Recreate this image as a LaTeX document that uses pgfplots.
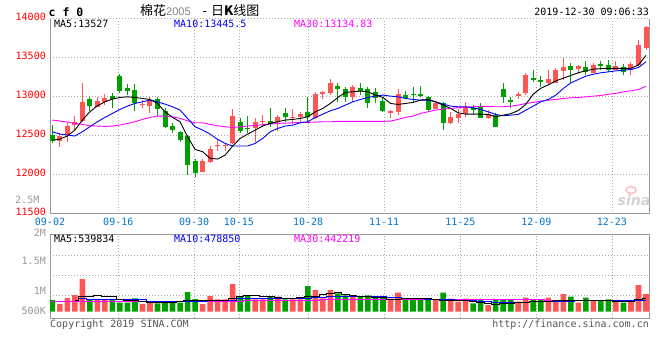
\documentclass[border=0pt]{standalone}
\usepackage{pgfplots}
\pgfplotsset{compat=1.18}
\usepackage{pgfplotstable}
\usepackage{fontspec}
\setmainfont{DejaVu Sans}
\setmonofont{DejaVu Sans Mono}
\newfontfamily\cjk{Noto Sans CJK SC}
\newfontfamily\lsans{Liberation Sans}
\definecolor{cRed}{HTML}{FF5555}
\definecolor{cGreen}{HTML}{00A000}
\definecolor{cGrid}{HTML}{AAAAAA}
\definecolor{cFrame}{HTML}{999999}
\definecolor{cBlueTxt}{HTML}{0077CC}
\definecolor{cMag}{HTML}{FF00FF}
\definecolor{cBlue}{HTML}{0000FF}
\definecolor{cTxt}{HTML}{555555}

% red (rising) candles: index open high low close volume(K)
\pgfplotstableread{
i o h l c v
1 12433 12527 12356 12493 308
2 12506 12663 12420 12621 553
3 12629 12749 12569 12676 675
4 12685 13176 12676 12928 1326
6 12868 12996 12860 12937 471
7 12928 13031 12890 12979 471
12 12885 12954 12847 12898 308
13 12881 12996 12783 12954 390
20 12036 12194 12027 12177 308
21 12164 12365 12143 12326 634
22 12360 12441 12305 12373 498
23 12365 12399 12305 12382 498
24 12399 12834 12390 12749 1123
27 12599 12719 12420 12672 498
28 12672 12762 12612 12685 498
30 12676 12762 12561 12736 607
32 12727 12834 12646 12740 498
33 12740 12804 12655 12774 498
35 12719 13061 12706 13031 878
36 13026 13073 12962 13061 539
37 13039 13218 13018 13167 878
40 12996 13146 12932 13124 634
45 12791 12826 12719 12817 525
46 12804 13090 12762 13031 770
51 12843 12945 12834 12920 471
53 12655 12804 12646 12740 525
54 12727 12834 12663 12770 403
55 12770 12928 12732 12868 525
58 12727 12826 12706 12774 268
62 13005 13060 12962 13030 403
63 13039 13295 13018 13274 566
66 13175 13338 13158 13222 566
67 13175 13359 13167 13346 471
68 13329 13500 13210 13380 715
70 13350 13402 13287 13389 362
72 13304 13432 13295 13402 471
75 13346 13457 13338 13389 471
77 13338 13444 13274 13423 471
78 13402 13722 13389 13658 1082
79 13624 13901 13594 13893 715
}\redtab

% green (falling) candles
\pgfplotstableread{
i o h l c v
0 12506 12634 12399 12433 471
5 12962 12996 12817 12881 498
8 13005 13048 12847 12966 471
9 13261 13287 13039 13065 363
10 13107 13159 13018 13073 363
11 13082 13159 12817 12911 539
14 12962 12988 12749 12843 336
15 12813 12847 12591 12612 349
16 12621 12655 12527 12569 363
17 12548 12561 12420 12441 363
18 12493 12506 11993 12121 797
19 12177 12198 11963 12015 512
25 12672 12719 12527 12561 634
26 12599 12749 12536 12582 661
29 12685 12847 12612 12642 607
31 12791 12847 12676 12732 498
34 12796 12996 12655 12732 1041
38 13133 13176 12932 13090 743
39 13090 13124 12932 12988 661
41 13112 13167 13018 13073 634
42 13090 13124 12856 12920 661
43 13056 13103 12920 12975 634
44 12941 12975 12796 12813 607
47 13018 13069 12962 12984 525
48 13031 13124 12924 13018 525
49 13035 13133 12996 13005 525
50 12996 13005 12817 12826 525
52 12911 12932 12570 12655 770
56 12856 12890 12774 12826 335
57 12860 12920 12719 12727 471
59 12762 12783 12604 12612 471
60 13094 13175 12919 12996 498
61 12953 12996 12847 12932 498
64 13240 13338 13188 13210 471
65 13210 13261 13124 13184 471
69 13389 13432 13167 13338 607
71 13380 13457 13274 13308 566
73 13419 13457 13338 13393 471
74 13402 13474 13316 13338 498
76 13372 13414 13274 13316 362
}\greentab

% price moving averages MA5 MA10 MA30
\pgfplotstableread{
i a b m
0 12441 12548 12698
1 12454 12518 12685
2 12493 12506 12672
3 12570 12493 12655
4 12698 12548 12642
5 12804 12612 12625
6 12881 12676 12621
7 12932 12732 12617
8 12967 12783 12621
9 12988 12834 12634
10 12996 12877 12655
11 12988 12911 12676
12 12975 12932 12706
13 12962 12954 12732
14 12911 12932 12749
15 12804 12902 12749
16 12732 12868 12740
17 12676 12826 12719
18 12484 12719 12689
19 12322 12612 12663
20 12292 12570 12663
21 12207 12518 12642
22 12198 12450 12625
23 12249 12399 12612
24 12365 12365 12604
25 12463 12365 12612
26 12518 12365 12621
27 12570 12399 12629
28 12621 12463 12638
29 12655 12548 12646
30 12676 12591 12655
31 12698 12621 12659
32 12706 12634 12663
33 12719 12663 12668
34 12740 12676 12668
35 12804 12732 12672
36 12847 12774 12676
37 12911 12817 12676
38 12988 12847 12681
39 13052 12890 12681
40 13061 12932 12681
41 13069 12962 12681
42 13061 12988 12681
43 13018 13005 12681
44 12988 13018 12681
45 12911 13005 12685
46 12898 12996 12706
47 12911 12975 12732
48 12924 12962 12749
49 12954 12954 12783
50 12962 12954 12804
51 12932 12932 12826
52 12890 12902 12838
53 12847 12877 12847
54 12791 12868 12856
55 12774 12868 12864
56 12774 12856 12868
57 12774 12834 12873
58 12770 12804 12873
59 12740 12770 12868
60 12760 12753 12868
61 12780 12761 12877
62 12820 12770 12889
63 12900 12825 12911
64 13030 12877 12924
65 13105 12932 12941
66 13150 12962 12953
67 13200 13017 12962
68 13235 13103 12975
69 13270 13175 12983
70 13305 13218 12988
71 13330 13261 12996
72 13350 13286 13005
73 13358 13304 13013
74 13360 13316 13030
75 13360 13329 13039
76 13360 13338 13060
77 13362 13346 13073
78 13405 13372 13090
79 13527 13445 13130
}\matab

% volume moving averages (K)
\pgfplotstableread{
i a b m
0 nan nan 403
1 nan nan 403
2 nan nan 403
3 444 444 403
4 607 539 403
5 634 498 403
6 648 498 403
7 634 498 403
8 607 498 403
9 498 498 403
10 471 498 403
11 444 498 403
12 403 498 403
13 376 431 431
14 376 431 431
15 376 431 431
16 376 431 431
17 403 431 431
18 444 431 431
19 444 431 431
20 444 431 431
21 444 471 431
22 444 471 431
23 444 471 431
24 539 471 431
25 634 539 431
26 648 539 471
27 648 539 471
28 634 539 471
29 607 539 471
30 580 539 471
31 539 539 471
32 539 539 471
33 566 539 471
34 607 552 471
35 634 566 471
36 680 593 500
37 750 607 500
38 770 620 500
39 700 634 500
40 640 634 500
41 607 634 500
42 607 634 500
43 593 620 500
44 566 607 500
45 498 593 500
46 512 566 500
47 525 552 500
48 525 539 500
49 525 525 500
50 525 512 500
51 498 498 500
52 471 498 500
53 471 485 500
54 471 471 500
55 444 471 500
56 417 444 480
57 390 431 480
58 349 417 480
59 308 390 480
60 322 376 480
61 335 376 480
62 362 390 480
63 390 390 480
64 403 403 480
65 417 403 480
66 431 417 450
67 444 417 450
68 471 431 450
69 471 431 450
70 471 444 450
71 471 444 450
72 471 444 450
73 458 444 450
74 444 444 450
75 417 458 450
76 403 458 450
77 403 458 450
78 498 471 450
79 539 471 450
}\vmatab

\begin{document}
\ttfamily\fontsize{10}{12}\selectfont
\begin{tikzpicture}[x=1pt,y=1pt]
\fill[white] (0,0) rectangle (660,360);

% ---------------- price panel ----------------
\begin{axis}[
  at={(50pt,146.5pt)}, anchor=south west,
  scale only axis, width=599pt, height=195pt,
  xmin=-0.306, xmax=79.4, ymin=11500, ymax=14000,
  scaled y ticks=false,
  axis x line*=bottom, axis y line*=box,
  axis line style={draw=cFrame, line width=1pt},
  ytick={11500,12000,12500,13000,13500,14000},
  yticklabels={11500,12000,12500,13000,13500,14000},
  yticklabel pos=left,
  yticklabel style={text=red, anchor=east, inner sep=0pt, xshift=-4pt, yshift=1.8pt},
  xtick={-0.306,8.78,18.88,24.83,34.04,44.15,54.31,64.41,74.47},
  xticklabels={09-02,09-16,09-30,10-15,10-28,11-11,11-25,12-09,12-23},
  xticklabel style={text=cBlueTxt, anchor=center, inner sep=0pt, yshift=-8pt},
  tick label style={font=\ttfamily\fontsize{10}{12}\selectfont},
  major tick length=0pt,
  xmajorgrids, ymajorgrids,
  grid style={draw=cGrid, line width=0.8pt, dash pattern=on 1pt off 2pt},
  candle/.style={draw=none, mark=none, forget plot,
    error bars/.cd, y dir=plus, y explicit, error mark=none},
]
% wicks
\addplot[candle, error bar style={draw=cRed, line width=1pt}]
  table[x=i, y=l, y error plus expr=\thisrow{h}-\thisrow{l}] {\redtab};
\addplot[candle, error bar style={draw=cGreen, line width=1pt}]
  table[x=i, y=l, y error plus expr=\thisrow{h}-\thisrow{l}] {\greentab};
% bodies
\addplot[candle, error bar style={draw=cRed, line width=5pt}]
  table[x=i, y=o, y error plus expr=\thisrow{c}-\thisrow{o}] {\redtab};
\addplot[candle, error bar style={draw=cGreen, line width=5pt}]
  table[x=i, y=c, y error plus expr=\thisrow{o}-\thisrow{c}] {\greentab};
% moving averages
\addplot[cMag, line width=0.9pt, mark=none] table[x=i, y=m] {\matab};
\addplot[cBlue, line width=0.9pt, mark=none] table[x=i, y=b] {\matab};
\addplot[black, line width=0.9pt, mark=none] table[x=i, y=a] {\matab};
\end{axis}

% ---------------- volume panel ----------------
\begin{axis}[
  at={(50pt,42pt)}, anchor=south west,
  scale only axis, width=599pt, height=84pt,
  xmin=-0.306, xmax=79.4, ymin=-260, ymax=3158,
  scaled y ticks=false,
  axis line style={draw=cFrame, line width=1pt},
  ytick={37,838,2072,3150},
  yticklabels={500K,1M,1.5M,\raisebox{3.5pt}{2M}},
  yticklabel style={text=cFrame, anchor=east, inner sep=0pt, xshift=-4pt},
  extra y ticks={647,1473,2300}, extra y tick labels={},
  extra y tick style={grid=major},
  xtick={-0.306,8.78,18.88,24.83,34.04,44.15,54.31,64.41,74.47},
  xticklabels={},
  tick label style={font=\ttfamily\fontsize{10}{12}\selectfont},
  major tick length=0pt,
  xmajorgrids,
  grid style={draw=cGrid, line width=0.8pt, dash pattern=on 1pt off 2pt},
]
\addplot[ybar, bar width=5.6pt, bar shift=0pt, fill=cRed, draw=none] table[x=i, y=v] {\redtab};
\addplot[ybar, bar width=5.6pt, bar shift=0pt, fill=cGreen, draw=none] table[x=i, y=v] {\greentab};
\addplot[cMag, line width=0.9pt, mark=none, const plot mark mid] table[x=i, y=m] {\vmatab};
\addplot[cBlue, line width=0.9pt, mark=none, const plot mark mid] table[x=i, y=b] {\vmatab};
\addplot[black, line width=0.9pt, mark=none, const plot mark mid] table[x=i, y=a] {\vmatab};
\end{axis}

% ---------------- texts ----------------
\node[anchor=base west, inner sep=0pt, font=\ttfamily\bfseries\fontsize{11.5}{13}\selectfont] at (48.5,344) {c f 0};
\node[anchor=base west, inner sep=0pt] at (140,344.5) {\cjk\fontsize{13}{14}\selectfont 棉花{\lsans\color{gray}\fontsize{11}{12}\selectfont 2005}\hspace{12pt}{\lsans -}\hspace{4pt}日\textbf{K}线图};
\node[anchor=base east, inner sep=0pt] at (649,344.9) {2019-12-30 09:06:33};

\node[anchor=base west, inner sep=0pt, text=black] at (54,332.4) {MA5:13527};
\node[anchor=base west, inner sep=0pt, text=cBlue] at (174,332.4) {MA10:13445.5};
\node[anchor=base west, inner sep=0pt, text=cMag] at (294,332.4) {MA30:13134.83};

\node[anchor=base west, inner sep=0pt, text=black] at (54,117.9) {MA5:539834};
\node[anchor=base west, inner sep=0pt, text=cBlue] at (174,117.9) {MA10:478850};
\node[anchor=base west, inner sep=0pt, text=cMag] at (294,117.9) {MA30:442219};

\node[anchor=base east, inner sep=0pt, text=cFrame] at (39.5,156.7) {2.5M};

\node[anchor=base west, inner sep=0pt, text=cTxt] at (50,33) {Copyright 2019 SINA.COM};
\node[anchor=base east, inner sep=0pt, text=cTxt] at (649,33) {http://finance.sina.com.cn};

\draw[red!25, line width=1.5pt] (631,170) ellipse (5 and 3.5);
\node[anchor=center, inner sep=0pt, text=gray!35, font=\rmfamily\bfseries\itshape\fontsize{14}{14}\selectfont] at (634,160) {sina};
\end{tikzpicture}
\end{document}
